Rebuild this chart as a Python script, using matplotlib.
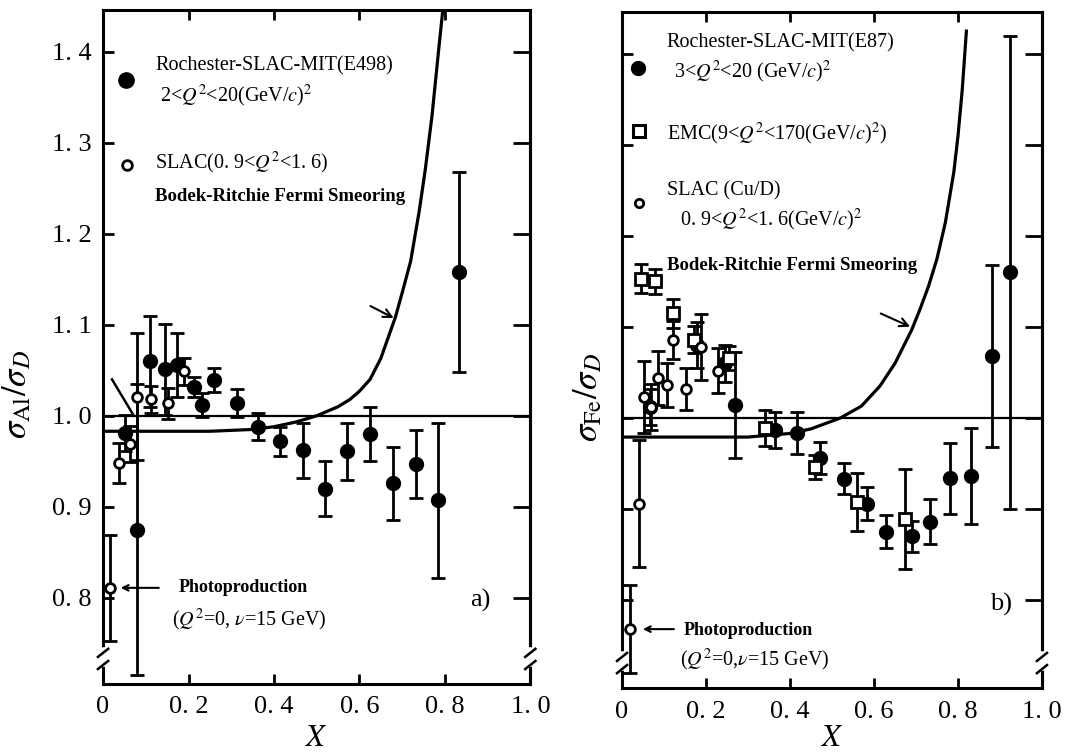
import matplotlib.pyplot as plt

plt.rcParams['font.family'] = ['Liberation Serif', 'DejaVu Serif']
plt.rcParams['mathtext.fontset'] = 'stix'

# ---- (a) Al / D ----
al_rsm_x = [0.052, 0.08, 0.111, 0.144, 0.173, 0.214, 0.232, 0.259, 0.314, 0.363,
            0.415, 0.468, 0.52, 0.572, 0.625, 0.678, 0.733, 0.785, 0.834]
al_rsm_y = [0.981, 0.875, 1.060, 1.051, 1.056, 1.032, 1.012, 1.039, 1.014, 0.988,
            0.972, 0.962, 0.920, 0.961, 0.980, 0.926, 0.947, 0.907, 1.158]
al_rsm_err = [0.02, 0.16, 0.05, 0.05, 0.035, 0.011, 0.013, 0.013, 0.015, 0.015,
              0.016, 0.03, 0.03, 0.031, 0.03, 0.04, 0.037, 0.085, 0.11]

al_slac_x = [0.037, 0.064, 0.08, 0.113, 0.152, 0.189]
al_slac_y = [0.948, 0.969, 1.021, 1.018, 1.014, 1.049]
al_slac_err = [0.022, 0.02, 0.07, 0.015, 0.017, 0.015]

al_photo_x = [0.016]
al_photo_y = [0.811]
al_photo_err = [0.058]

al_fermi_x = [0.0, 0.25, 0.35, 0.40, 0.45, 0.50, 0.55, 0.578, 0.60, 0.625, 0.65,
              0.684, 0.70, 0.72, 0.74, 0.754, 0.77, 0.785, 0.795]
al_fermi_y = [0.983, 0.983, 0.985, 0.988, 0.993, 1.0, 1.01, 1.018, 1.027, 1.04, 1.063,
              1.108, 1.135, 1.17, 1.225, 1.27, 1.33, 1.40, 1.445]

al_slope_x = [0.021, 0.072]
al_slope_y = [1.04, 1.0]

# ---- (b) Fe / D ----
fe_rsm_x = [0.067, 0.178, 0.245, 0.27, 0.365, 0.416, 0.471, 0.529, 0.583, 0.629,
            0.69, 0.733, 0.781, 0.83, 0.88, 0.925]
fe_rsm_y = [1.012, 1.08, 1.06, 1.014, 0.987, 0.983, 0.956, 0.933, 0.906, 0.875,
            0.87, 0.886, 0.934, 0.936, 1.068, 1.16]
fe_rsm_err = [0.02, 0.025, 0.02, 0.058, 0.02, 0.023, 0.018, 0.017, 0.018, 0.018,
              0.017, 0.025, 0.039, 0.053, 0.1, 0.26]

fe_emc_x = [0.044, 0.078, 0.121, 0.171, 0.254, 0.341, 0.46, 0.56, 0.674]
fe_emc_y = [1.153, 1.15, 1.115, 1.086, 1.066, 0.989, 0.946, 0.908, 0.889]
fe_emc_err = [0.016, 0.014, 0.016, 0.015, 0.013, 0.02, 0.013, 0.032, 0.055]

fe_slac_x = [0.04, 0.052, 0.069, 0.086, 0.107, 0.121, 0.152, 0.189, 0.229]
fe_slac_y = [0.906, 1.023, 1.012, 1.044, 1.036, 1.086, 1.032, 1.078, 1.052]
fe_slac_err = [0.07, 0.04, 0.025, 0.03, 0.024, 0.021, 0.023, 0.036, 0.025]

fe_photo_x = [0.019]
fe_photo_y = [0.768]
fe_photo_err = [0.048]

fe_fermi_x = [0.0, 0.30, 0.40, 0.45, 0.52, 0.57, 0.614, 0.65, 0.69, 0.71, 0.73,
              0.75, 0.77, 0.79, 0.80, 0.81, 0.82]
fe_fermi_y = [0.979, 0.979, 0.983, 0.988, 1.0, 1.013, 1.035, 1.06, 1.097, 1.12, 1.145,
              1.175, 1.215, 1.27, 1.31, 1.36, 1.425]

y_ticks = [0.8, 0.9, 1.0, 1.1, 1.2, 1.3, 1.4]
y_labels = ['0. 8', '0. 9', '1. 0', '1. 1', '1. 2', '1. 3', '1. 4']
x_ticks = [0, 0.2, 0.4, 0.6, 0.8, 1.0]
x_labels = ['0', '0. 2', '0. 4', '0. 6', '0. 8', '1. 0']


def points(ax, x, y, err, marker, filled, ms):
    ax.errorbar(x, y, yerr=err, fmt=marker, ms=ms,
                mfc='black' if filled else 'white', mec='black', mew=2,
                ecolor='black', elinewidth=2, capsize=5, capthick=2,
                zorder=4 if filled else 5)


def frame(ax, ylim, xpad):
    ax.set_xlim(0, 1.0)
    ax.set_ylim(*ylim)
    for s in ax.spines.values():
        s.set_linewidth(2.2)
    ax.set_xticks(x_ticks)
    ax.set_xticklabels(x_labels, fontsize=19)
    ax.set_yticks(y_ticks)
    ax.tick_params(axis='x', direction='in', length=7, width=2, top=True, pad=9)
    ax.tick_params(axis='y', direction='in', length=8, width=2, pad=8)
    sec = ax.secondary_yaxis('right')
    sec.set_yticks(y_ticks)
    sec.tick_params(direction='in', length=12, width=2, labelright=False)
    sec.spines['right'].set_linewidth(2.2)
    ax.axhline(1.0, color='black', lw=1.6, zorder=2)
    ax.set_xlabel('$X$', fontsize=22, labelpad=xpad)
    # axis break marks near the bottom of both vertical spines
    for xb in (0.0, 1.0):
        ax.plot([xb, xb], [0.03, 0.05], color='white', lw=4,
                transform=ax.transAxes, clip_on=False, zorder=6)
        for yb in (0.028, 0.046):
            ax.plot([xb - 0.012, xb + 0.012], [yb - 0.006, yb + 0.006],
                    color='black', lw=1.8, transform=ax.transAxes,
                    clip_on=False, zorder=7)


fig = plt.figure(figsize=(10.79, 7.54), dpi=100)
ax1 = fig.add_axes([0.0955, 0.093, 0.396, 0.894])
ax2 = fig.add_axes([0.5765, 0.0875, 0.3892, 0.8966])

# panel a
frame(ax1, (0.7055, 1.446), 4)
ax1.set_yticklabels(y_labels, fontsize=19)
ax1.set_ylabel(r'$\sigma_{\rm Al}/\sigma_D$', fontsize=25, labelpad=2)
ax1.yaxis.set_label_coords(-0.16, 0.43)
ax1.plot(al_fermi_x, al_fermi_y, color='black', lw=2.3, zorder=3)
ax1.plot(al_slope_x, al_slope_y, color='black', lw=1.8, zorder=3)
points(ax1, al_rsm_x, al_rsm_y, al_rsm_err, 'o', True, 9)
points(ax1, al_slac_x, al_slac_y, al_slac_err, 'o', False, 7)
points(ax1, al_photo_x, al_photo_y, al_photo_err, 'o', False, 7)
ax1.annotate('', xy=(0.62, 1.122), xytext=(0.686, 1.106),
             arrowprops=dict(arrowstyle='<-', color='black', lw=1.5,
                             mutation_scale=15))
ax1.annotate('', xy=(0.035, 0.811), xytext=(0.137, 0.811),
             arrowprops=dict(arrowstyle='->', color='black', lw=1.5))

ax1.plot([0.054], [1.369], 'o', ms=11, color='black')
ax1.text(0.122, 1.384, 'Rochester-SLAC-MIT(E498)', fontsize=14.5, va='center')
ax1.text(0.134, 1.351, r'2<$Q^2$<20(GeV/$c$)$^2$', fontsize=14.5, va='center')
ax1.plot([0.055], [1.275], 'o', ms=7, mfc='white', mec='black', mew=2)
ax1.text(0.122, 1.278, r'SLAC(0. 9<$Q^2$<1. 6)', fontsize=14.5, va='center')
ax1.text(0.122, 1.241, 'Bodek-Ritchie Fermi Smeoring', fontsize=13.5,
         fontweight='bold', va='center')
ax1.text(0.176, 0.811, 'Photoproduction', fontsize=13, fontweight='bold', va='center')
ax1.text(0.161, 0.776, r'($Q^2$=0, $\nu$=15 GeV)', fontsize=14.5, va='center')
ax1.text(0.86, 0.797, 'a)', fontsize=19, va='center')

# panel b
frame(ax2, (0.7033, 1.446), 1)
ax2.set_yticklabels([])
ax2.set_ylabel(r'$\sigma_{\rm Fe}/\sigma_D$', fontsize=25)
ax2.yaxis.set_label_coords(-0.04, 0.43)
ax2.plot(fe_fermi_x, fe_fermi_y, color='black', lw=2.3, zorder=3)
points(ax2, fe_rsm_x, fe_rsm_y, fe_rsm_err, 'o', True, 9)
points(ax2, fe_emc_x, fe_emc_y, fe_emc_err, 's', False, 8)
points(ax2, fe_slac_x, fe_slac_y, fe_slac_err, 'o', False, 7)
points(ax2, fe_photo_x, fe_photo_y, fe_photo_err, 'o', False, 7)
ax2.annotate('', xy=(0.61, 1.116), xytext=(0.692, 1.099),
             arrowprops=dict(arrowstyle='<-', color='black', lw=1.5,
                             mutation_scale=15))
ax2.annotate('', xy=(0.043, 0.768), xytext=(0.13, 0.768),
             arrowprops=dict(arrowstyle='->', color='black', lw=1.5))

ax2.plot([0.039], [1.385], 'o', ms=10, color='black')
ax2.text(0.106, 1.412, 'Rochester-SLAC-MIT(E87)', fontsize=14.5, va='center')
ax2.text(0.124, 1.38, r'3<$Q^2$<20 (GeV/$c$)$^2$', fontsize=14.5, va='center')
ax2.plot([0.041], [1.315], 's', ms=8, mfc='white', mec='black', mew=2.2)
ax2.text(0.106, 1.312, r'EMC(9<$Q^2$<170(GeV/$c$)$^2$)', fontsize=14.5, va='center')
ax2.plot([0.041], [1.236], 'o', ms=6, mfc='white', mec='black', mew=2)
ax2.text(0.106, 1.25, 'SLAC (Cu/D)', fontsize=14.5, va='center')
ax2.text(0.138, 1.218, r'0. 9<$Q^2$<1. 6(GeV/$c$)$^2$', fontsize=14.5, va='center')
ax2.text(0.106, 1.168, 'Bodek-Ritchie Fermi Smeoring', fontsize=13.5,
         fontweight='bold', va='center')
ax2.text(0.146, 0.767, 'Photoproduction', fontsize=13, fontweight='bold', va='center')
ax2.text(0.138, 0.734, r'($Q^2$=0,$\nu$=15 GeV)', fontsize=14.5, va='center')
ax2.text(0.876, 0.795, 'b)', fontsize=19, va='center')

fig.savefig('out.png', dpi=100)
